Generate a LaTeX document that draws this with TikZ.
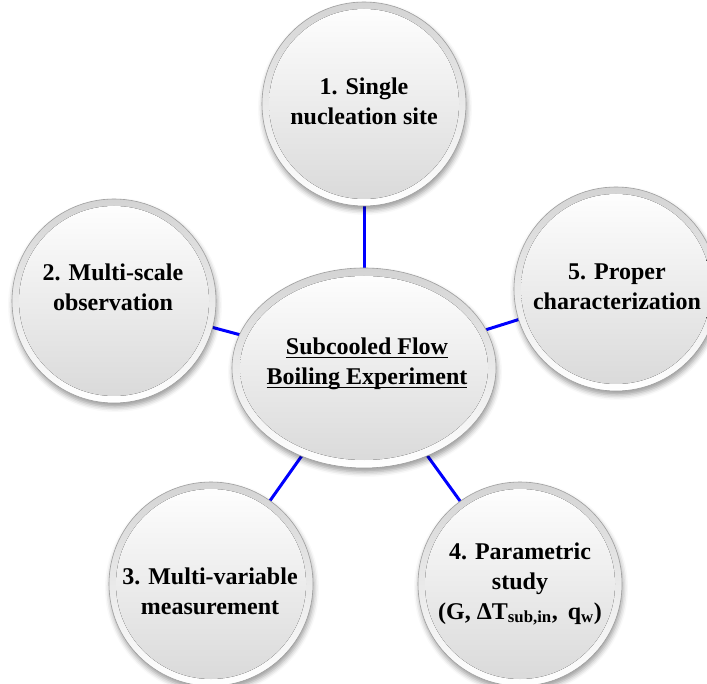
\documentclass[tikz,border=0pt]{standalone}
\usepackage{fontspec}
\setmainfont{Liberation Serif}
\usetikzlibrary{shapes.geometric,shadows.blur,backgrounds}
\newcommand{\ulbox}[1]{\setbox0\hbox{#1}\rlap{\rule[-3.5pt]{\wd0}{1.3pt}}\box0}
\tikzset{
  conn/.style={draw=blue, line width=3pt},
  label text/.style={align=center, inner sep=0pt, font=\bfseries\fontsize{24}{30}\selectfont},
  rim/.style={draw=black!38, line width=0.6pt, top color=black!17, bottom color=white,
    blur shadow={shadow xshift=1pt, shadow yshift=-4pt, shadow blur radius=5pt, shadow opacity=40}},
  bubble/.style={circle, minimum size=204pt, inner sep=0pt, rim,
    path picture={\fill[top color=white, bottom color=black!15] (path picture bounding box.center) circle (95pt);}},
  corebubble/.style={ellipse, minimum width=264pt, minimum height=200pt, inner sep=0pt, rim,
    path picture={\fill[top color=white, bottom color=black!15] (path picture bounding box.center) ellipse [x radius=124pt, y radius=92pt];}}
}
\begin{document}
\begin{tikzpicture}[x=1pt,y=-1pt]
\useasboundingbox (0,0) rectangle (707,684);
\clip (0,0) rectangle (707,684);
% bubbles
\node[corebubble] (core) at (364,368) {};
\node[bubble] (n1) at (364,104) {};
\node[bubble] (n2) at (114,301) {};
\node[bubble] (n5) at (616,289) {};
\node[bubble] (n3) at (211,584) {};
\node[bubble] (n4) at (520,584) {};
% connectors
\begin{scope}[on background layer]
\draw[conn] (core.center) -- (n1.center);
\draw[conn] (core.center) -- (n2.center);
\draw[conn] (core.center) -- (n5.center);
\draw[conn] (core.center) -- (n3.center);
\draw[conn] (core.center) -- (n4.center);
\end{scope}
% texts
\node[label text] (tc) at (367,364) {\ulbox{Subcooled Flow}\\\ulbox{Boiling Experiment}};
\node[label text] (t1) at (364,101) {1. Single\\nucleation site};
\node[label text] (t2) at (113,287) {2. Multi-scale\\observation};
\node[label text] (t5) at (617,287) {5. Proper\\characterization};
\node[label text] (t3) at (210,591) {3. Multi-variable\\measurement};
\node[label text] (t4) at (520,584) {4. Parametric\\study\\(G, ΔT\textsubscript{sub,in},\ \,q\textsubscript{w})};
\end{tikzpicture}
\end{document}
